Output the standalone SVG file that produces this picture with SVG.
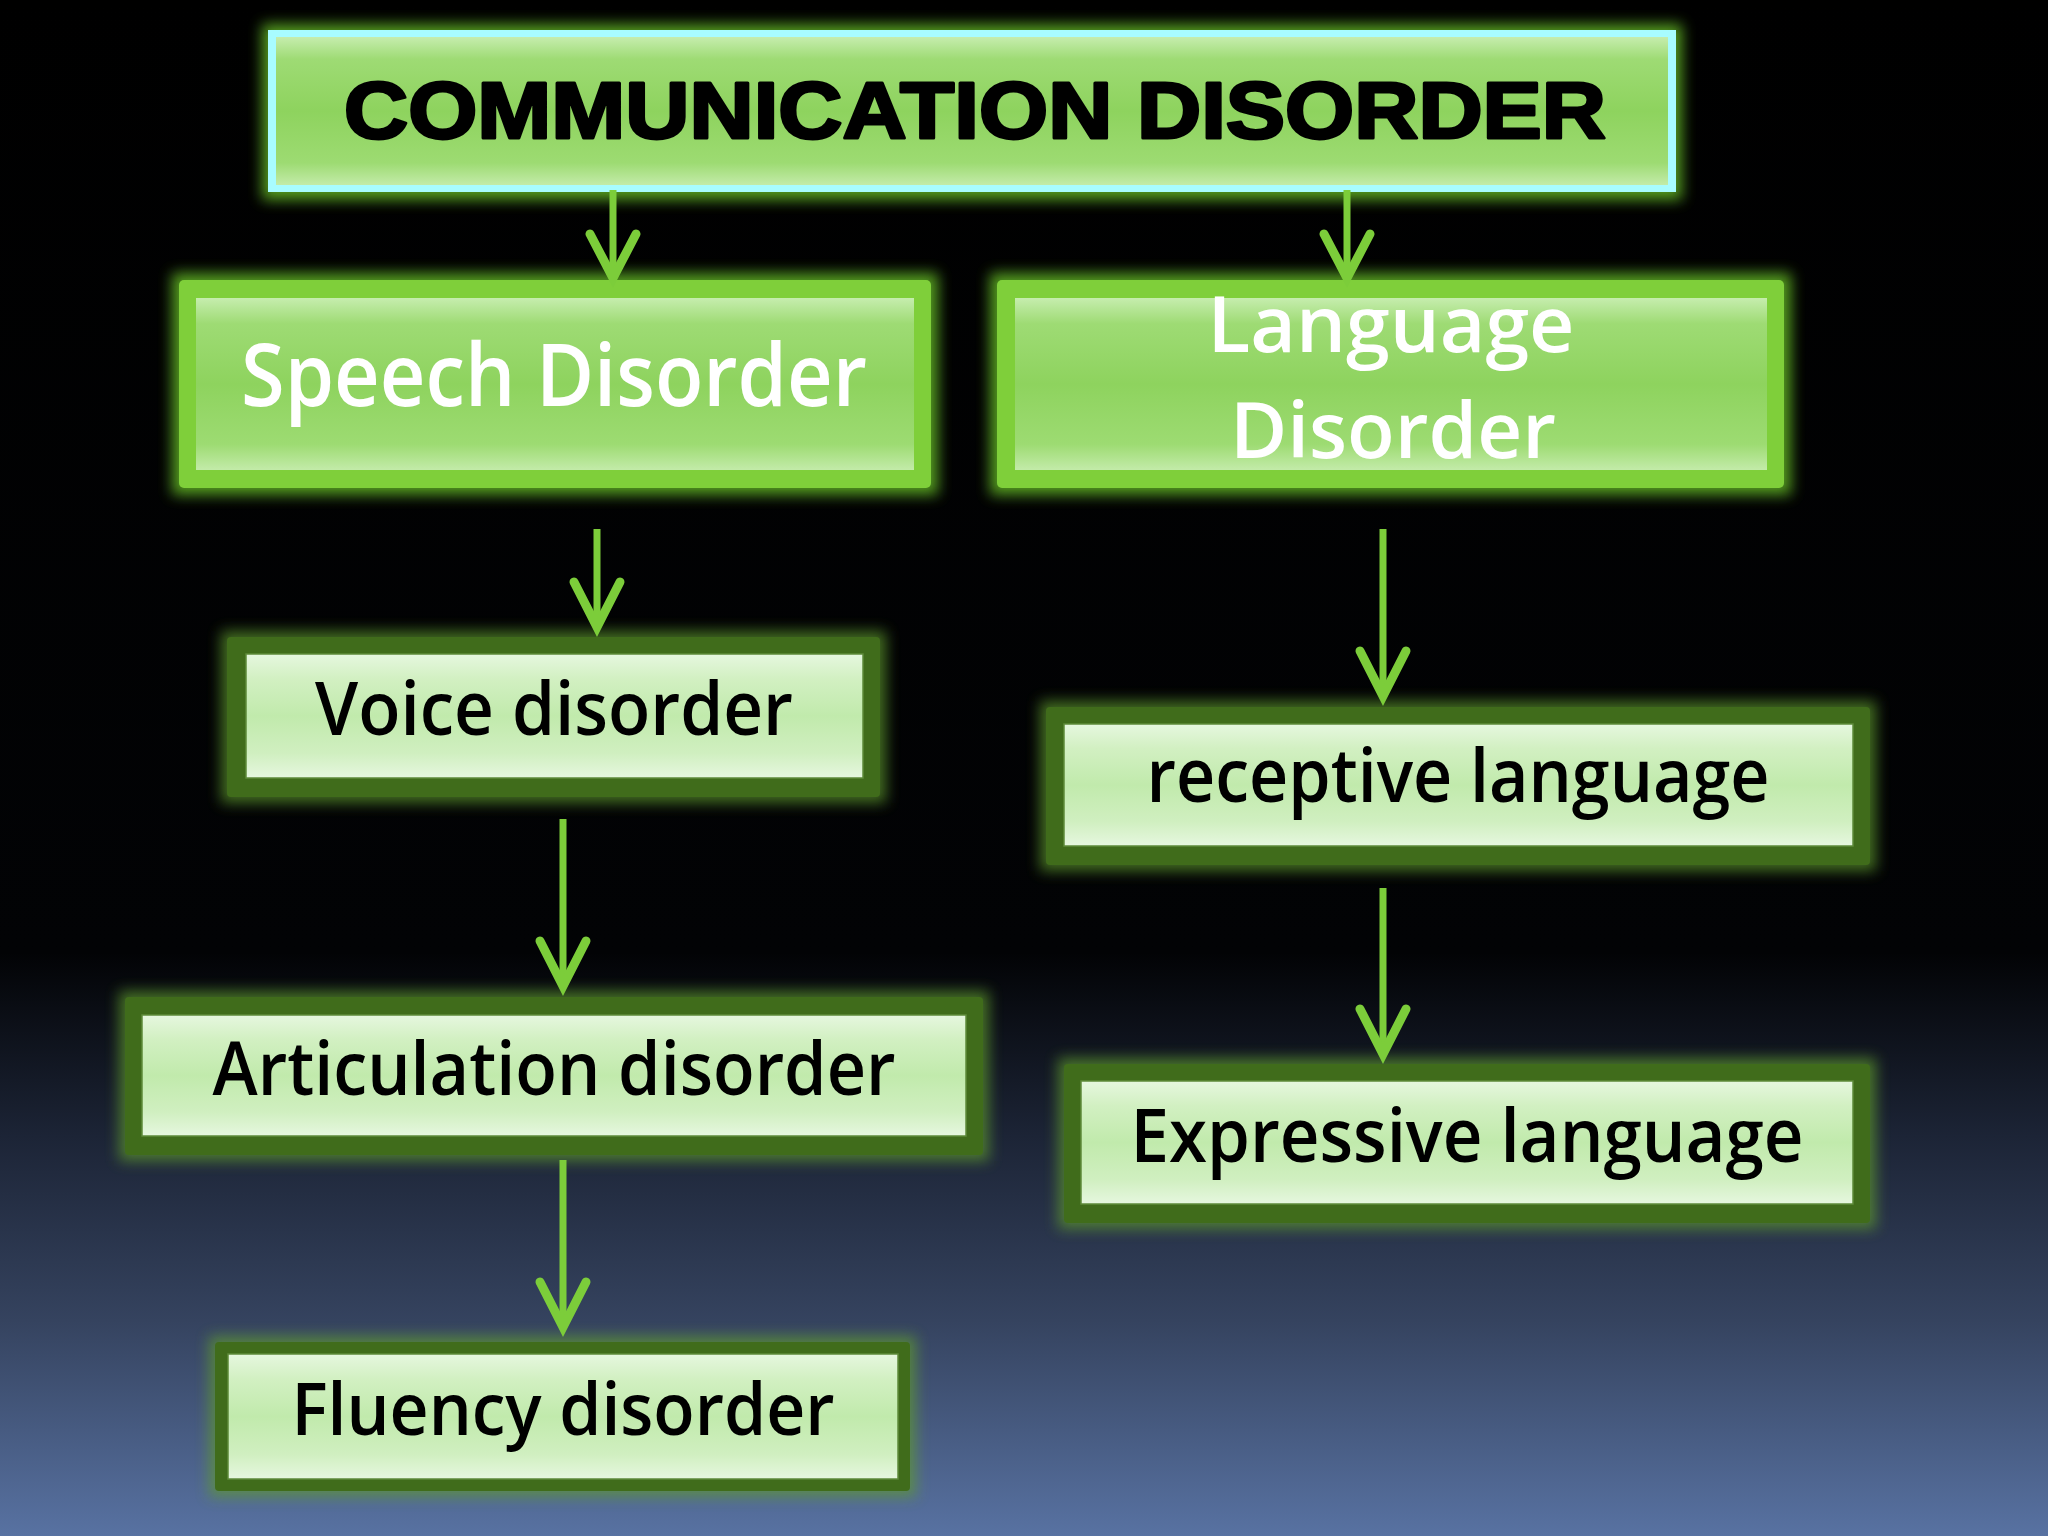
<svg xmlns="http://www.w3.org/2000/svg" width="2048" height="1536" viewBox="0 0 2048 1536">
<defs>
<linearGradient id="bg" x1="0" y1="0" x2="0" y2="1">
<stop offset="0" stop-color="#000"/>
<stop offset="0.62" stop-color="#020305"/>
<stop offset="0.74" stop-color="#1c2436"/>
<stop offset="0.86" stop-color="#35435f"/>
<stop offset="1" stop-color="#5872a2"/>
</linearGradient>
<linearGradient id="brightFill" x1="0" y1="0" x2="0" y2="1">
<stop offset="0" stop-color="#c6edae"/>
<stop offset="0.15" stop-color="#9edb74"/>
<stop offset="0.5" stop-color="#8ed35e"/>
<stop offset="0.85" stop-color="#9ddb72"/>
<stop offset="1" stop-color="#c3eba9"/>
</linearGradient>
<linearGradient id="paleFill" x1="0" y1="0" x2="0" y2="1">
<stop offset="0" stop-color="#e6f7df"/>
<stop offset="0.2" stop-color="#d2f0c2"/>
<stop offset="0.5" stop-color="#c1eaac"/>
<stop offset="0.8" stop-color="#d0efc0"/>
<stop offset="1" stop-color="#e6f7df"/>
</linearGradient>
<filter id="glow" x="-10%" y="-30%" width="120%" height="160%">
<feGaussianBlur stdDeviation="7"/>
</filter>
</defs>
<style>
.glowB{fill:#6fcf2c;opacity:0.75}
.glowD{fill:#5f9a2e;opacity:0.7}
.brightBorder{fill:#7fcf3a}
.darkBorder{fill:#406c1b}
.panelB{fill:url(#brightFill)}
.panelP{fill:url(#paleFill);stroke:#5d8a3a;stroke-width:1.5}
.tw{font-family:"Open Sans","Noto Sans","DejaVu Sans",sans-serif;font-weight:600;fill:#fff;text-anchor:middle}
.tb{font-family:"Open Sans","Noto Sans","DejaVu Sans",sans-serif;font-weight:600;fill:#000;text-anchor:middle}
.title{font-family:"Liberation Sans",Arial,sans-serif;font-weight:900;fill:#000;stroke:#000;stroke-width:3;stroke-linejoin:round;text-anchor:middle}
.conn line{stroke:#7ccd3a;stroke-width:7}
.conn polyline{fill:none;stroke:#7ccd3a;stroke-width:9;stroke-linejoin:miter;stroke-linecap:round}
</style>
<rect x="0" y="0" width="2048" height="1536" fill="url(#bg)"/>

<g id="node-communication">
<rect x="262" y="24" width="1420" height="176" class="glowB" filter="url(#glow)"/>
<rect x="268" y="30" width="1408" height="162" fill="#a8fcff"/>
<rect x="276" y="37" width="1392" height="148" class="panelB"/>
<text x="975" y="138" class="title" font-size="80" textLength="1262" lengthAdjust="spacingAndGlyphs">COMMUNICATION DISORDER</text>
</g>

<g id="node-speech">
<rect x="172" y="273" width="766" height="222" class="glowB" filter="url(#glow)"/>
<rect x="179" y="280" width="752" height="208" rx="5" class="brightBorder"/>
<rect x="196" y="298" width="718" height="172" class="panelB"/>
<text x="554" y="406" class="tw" font-size="86" textLength="626" lengthAdjust="spacingAndGlyphs">Speech Disorder</text>
</g>

<g id="node-language">
<rect x="990" y="273" width="801" height="222" class="glowB" filter="url(#glow)"/>
<rect x="997" y="280" width="787" height="208" rx="5" class="brightBorder"/>
<rect x="1015" y="298" width="752" height="172" class="panelB"/>
<text class="tw" font-size="78"><tspan x="1391" y="352" textLength="367" lengthAdjust="spacingAndGlyphs">Language</tspan><tspan x="1393" y="458" textLength="326" lengthAdjust="spacingAndGlyphs">Disorder</tspan></text>
</g>

<g id="node-voice">
<rect x="221" y="631" width="665" height="172" class="glowD" filter="url(#glow)"/>
<rect x="227" y="637" width="653" height="160" rx="4" class="darkBorder"/>
<rect x="246" y="654" width="617" height="124" class="panelP"/>
<text x="554" y="735" class="tb" font-size="74" textLength="478" lengthAdjust="spacingAndGlyphs">Voice disorder</text>
</g>

<g id="node-receptive">
<rect x="1040" y="701" width="836" height="170" class="glowD" filter="url(#glow)"/>
<rect x="1046" y="707" width="824" height="158" rx="4" class="darkBorder"/>
<rect x="1064" y="724" width="789" height="122" class="panelP"/>
<text x="1458" y="802" class="tb" font-size="74" textLength="623" lengthAdjust="spacingAndGlyphs">receptive language</text>
</g>

<g id="node-articulation">
<rect x="119" y="991" width="870" height="170" class="glowD" filter="url(#glow)"/>
<rect x="125" y="997" width="858" height="158" rx="4" class="darkBorder"/>
<rect x="142" y="1015" width="824" height="121" class="panelP"/>
<text x="554" y="1095" class="tb" font-size="74" textLength="683" lengthAdjust="spacingAndGlyphs">Articulation disorder</text>
</g>

<g id="node-expressive">
<rect x="1058" y="1058" width="818" height="171" class="glowD" filter="url(#glow)"/>
<rect x="1064" y="1064" width="806" height="159" rx="4" class="darkBorder"/>
<rect x="1081" y="1081" width="772" height="123" class="panelP"/>
<text x="1467" y="1162" class="tb" font-size="74" textLength="673" lengthAdjust="spacingAndGlyphs">Expressive language</text>
</g>

<g id="node-fluency">
<rect x="209" y="1336" width="707" height="161" class="glowD" filter="url(#glow)"/>
<rect x="215" y="1342" width="695" height="149" rx="4" class="darkBorder"/>
<rect x="228" y="1354" width="670" height="125" class="panelP"/>
<text x="563" y="1435" class="tb" font-size="72" textLength="543" lengthAdjust="spacingAndGlyphs">Fluency disorder</text>
</g>

<g id="connectors" class="conn">
<line x1="613" y1="190" x2="613" y2="276"/>
<polyline points="590,234 613,278 636,234"/>
<line x1="1347" y1="190" x2="1347" y2="276"/>
<polyline points="1324,234 1347,278 1370,234"/>
<line x1="597" y1="529" x2="597" y2="626"/>
<polyline points="574,582 597,627 620,582"/>
<line x1="1383" y1="529" x2="1383" y2="695"/>
<polyline points="1360,651 1383,696 1406,651"/>
<line x1="563" y1="819" x2="563" y2="985"/>
<polyline points="540,941 563,986 586,941"/>
<line x1="1383" y1="888" x2="1383" y2="1053"/>
<polyline points="1360,1009 1383,1054 1406,1009"/>
<line x1="563" y1="1160" x2="563" y2="1326"/>
<polyline points="540,1282 563,1327 586,1282"/>
</g>
</svg>
